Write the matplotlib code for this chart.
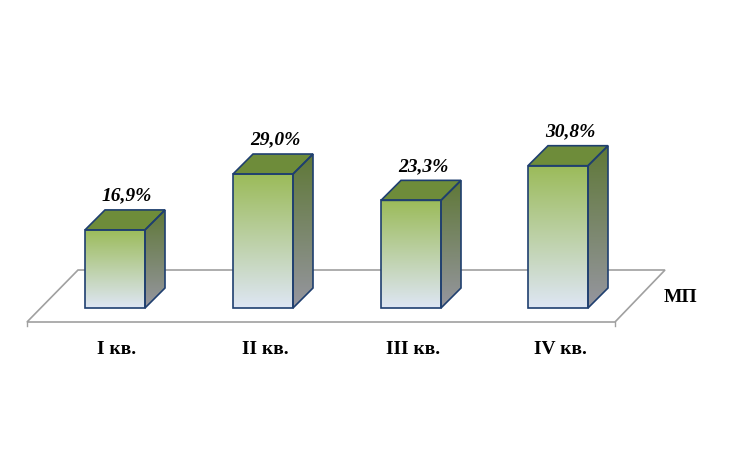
import numpy as np
import matplotlib
matplotlib.use("Agg")
import matplotlib.pyplot as plt
from matplotlib.patches import Polygon

categories = ["I кв.", "II кв.", "III кв.", "IV кв."]
values = [16.9, 29.0, 23.3, 30.8]
labels = ["16,9%", "29,0%", "23,3%", "30,8%"]

fig = plt.figure(figsize=(7.46, 4.59), dpi=100)
ax = fig.add_axes([0, 0, 1, 1])
ax.set_xlim(0, 746); ax.set_ylim(459, 0); ax.axis("off")

# floor
ax.add_patch(Polygon([(27, 322), (78, 270), (665, 270), (615, 322)], closed=True,
                     fill=False, edgecolor="#a0a0a0", lw=1.2))
ax.plot([27, 27], [322, 326], color="#a0a0a0", lw=1)
ax.plot([615, 615], [322, 326], color="#a0a0a0", lw=1)

scale = 4.62
base = 308
lefts = [85, 233, 381, 528]
w = 60; dx, dy = 20, -20
edge = "#1f3f6f"

def grad(poly, c_top, c_bot, horiz=False):
    p = Polygon(poly, closed=True, facecolor="none", edgecolor="none")
    ax.add_patch(p)
    xs = [q[0] for q in poly]; ys = [q[1] for q in poly]
    n = 256
    t = np.linspace(0, 1, n)[:, None]
    c1 = np.array(c_top) / 255; c2 = np.array(c_bot) / 255
    img = (c1 * (1 - t) + c2 * t)[:, None, :]
    im = ax.imshow(img, extent=(min(xs), max(xs), max(ys), min(ys)), aspect="auto",
                   interpolation="bilinear", zorder=2)
    im.set_clip_path(p)

for x0, v, lab, cat in zip(lefts, values, labels, categories):
    h = v * scale
    top = base - h
    front = [(x0, top), (x0 + w, top), (x0 + w, base), (x0, base)]
    side = [(x0 + w, top), (x0 + w + dx, top + dy), (x0 + w + dx, base + dy), (x0 + w, base)]
    topf = [(x0, top), (x0 + dx, top + dy), (x0 + w + dx, top + dy), (x0 + w, top)]
    grad(front, (155, 187, 89), (222, 230, 244))
    grad(side, (95, 120, 55), (150, 150, 160))
    ax.add_patch(Polygon(topf, closed=True, facecolor="#6e8c3a", edgecolor=edge, lw=1.2, zorder=3))
    for poly in (front, side):
        ax.add_patch(Polygon(poly, closed=True, fill=False, edgecolor=edge, lw=1.2, zorder=3))
    ax.text(x0 + w / 2 + 12, top + dy - 14, lab, ha="center", va="center",
            fontsize=14, fontweight="bold", fontstyle="italic", family="Liberation Serif")
    ax.text(x0 + w / 2 + 2, 350, cat, ha="center", va="center",
            fontsize=14, fontweight="bold", family="Liberation Serif")

ax.text(680, 297, "МП", ha="center", va="center", fontsize=14, fontweight="bold",
        family="Liberation Serif")
fig.savefig("out.png", dpi=100)
